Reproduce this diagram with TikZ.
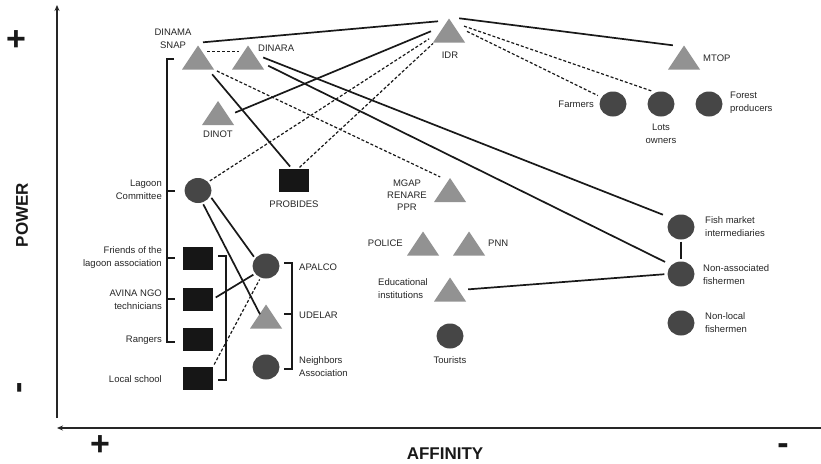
\documentclass[tikz,border=0pt]{standalone}
\usepackage{fontspec}
\setmainfont{Liberation Sans}
\usetikzlibrary{arrows.meta,shapes.geometric}
\definecolor{trigray}{HTML}{929292}
\definecolor{circgray}{HTML}{464646}
\definecolor{sqblack}{HTML}{161616}
\begin{document}
\begin{tikzpicture}[x=1pt,y=-1pt,
  tri/.style={rectangle,minimum width=32pt,minimum height=24pt,inner sep=0pt,
    path picture={\fill[trigray] (path picture bounding box.south west) -- (path picture bounding box.south east) -- (path picture bounding box.north) -- cycle;}},
  circ/.style={ellipse,fill=circgray,minimum width=27pt,minimum height=25pt,inner sep=0pt},
  sq/.style={rectangle,fill=sqblack,minimum width=30pt,minimum height=23pt,inner sep=0pt},
  lbl/.style={font=\fontsize{9.5}{13}\selectfont,inner sep=0pt,text=black!85},
  axlbl/.style={font=\fontsize{17}{17}\selectfont\bfseries,inner sep=0pt,text=black!90},
  sign/.style={font=\fontsize{34}{34}\selectfont\bfseries,inner sep=0pt,text=black!90},
  conn/.style={line width=1.7pt,black!90},
  dsh/.style={line width=1.2pt,black!90,dash pattern=on 3pt off 2pt},
  brk/.style={line width=1.8pt,black!90,line cap=butt,line join=miter},
  axis/.style={line width=1.1pt,black!85,-{Stealth[length=6pt,width=5pt]}}]
\useasboundingbox[fill=white] (0,0) rectangle (821,463);

% axes
\coordinate (ybot) at (57,418);
\coordinate (ytop) at (57,5);
\coordinate (xright) at (821,428);
\coordinate (xleft) at (57,428);
\draw[axis] (ybot) -- (ytop);
\draw[axis] (xright) -- (xleft);
\node[sign] (plustop) at (16,41) {+};
\node[sign,rotate=90,text height=17pt,text depth=0pt] (minusleft) at (20,388) {-};
\node[sign] (plusbot) at (100,446) {+};
\node[sign] (minusbot) at (783,449) {-};
\node[axlbl,rotate=90] (power) at (22,215) {POWER};
\node[axlbl] (affinity) at (445,454) {AFFINITY};

% triangles
\node[tri] (dinama) at (198,57.5) {};
\node[tri] (dinara) at (248,57.5) {};
\node[tri] (dinot) at (218,113) {};
\node[tri] (idr) at (449,30.5) {};
\node[tri] (mtop) at (684,57.5) {};
\node[tri] (mgap) at (450,190) {};
\node[tri] (police) at (423,243.5) {};
\node[tri] (pnn) at (469,243.5) {};
\node[tri] (edu) at (450,289.5) {};
\node[tri] (udelar) at (266,316.5) {};

% circles
\node[circ] (lagoon) at (198,190.5) {};
\node[circ] (farmers) at (613,104) {};
\node[circ] (lots) at (661,104) {};
\node[circ] (forest) at (709,104) {};
\node[circ] (apalco) at (266,266) {};
\node[circ] (neighbors) at (266,367) {};
\node[circ] (tourists) at (450,336) {};
\node[circ] (fish) at (681,227) {};
\node[circ] (nonassoc) at (681,274) {};
\node[circ] (nonlocal) at (681,323) {};

% squares
\node[sq] (probides) at (294,180.5) {};
\node[sq] (friends) at (198,258) {};
\node[sq] (avina) at (198,299) {};
\node[sq] (rangers) at (198,339.5) {};
\node[sq] (school) at (198,378) {};

% labels
\node[lbl,align=center] (tdinama) at (173,39) {DINAMA\\SNAP};
\node[lbl,anchor=west] (tdinara) at (258,48) {DINARA};
\node[lbl] (tdinot) at (218,134) {DINOT};
\node[lbl] (tidr) at (450,55) {IDR};
\node[lbl,anchor=west] (tmtop) at (703,58) {MTOP};
\node[lbl,anchor=east] (tfarmers) at (594,104) {Farmers};
\node[lbl,align=center] (tlots) at (661,133.5) {Lots\\owners};
\node[lbl,anchor=west,align=left] (tforest) at (730,102.5) {Forest\\producers};
\node[lbl,anchor=east,align=right] (tlagoon) at (162,189.5) {Lagoon\\Committee};
\node[lbl] (tprobides) at (294,204) {PROBIDES};
\node[lbl,align=center,font=\fontsize{9.5}{12}\selectfont] (tmgap) at (407,195) {MGAP\\RENARE\\PPR};
\node[lbl,anchor=east] (tpolice) at (403,243) {POLICE};
\node[lbl,anchor=west] (tpnn) at (488,243) {PNN};
\node[lbl,anchor=west,align=left] (tedu) at (378,289) {Educational\\institutions};
\node[lbl] (ttourists) at (450,360) {Tourists};
\node[lbl,anchor=west,align=left] (tfish) at (705,227) {Fish market\\intermediaries};
\node[lbl,anchor=west,align=left] (tnonassoc) at (703,274.5) {Non-associated\\fishermen};
\node[lbl,anchor=west,align=left] (tnonlocal) at (705,323) {Non-local\\fishermen};
\node[lbl,anchor=east,align=right] (tfriends) at (162,257.5) {Friends of the\\lagoon association};
\node[lbl,anchor=east,align=right] (tavina) at (162,299.5) {AVINA NGO\\technicians};
\node[lbl,anchor=east] (trangers) at (162,340) {Rangers};
\node[lbl,anchor=east] (tschool) at (162,379) {Local school};
\node[lbl,anchor=west] (tapalco) at (299,267) {APALCO};
\node[lbl,anchor=west] (tudelar) at (299,315) {UDELAR};
\node[lbl,anchor=west,align=left] (tneighbors) at (299,367) {Neighbors\\Association};

% brackets
\draw[brk] (174,59) -- (167,59) -- (167,342) -- (175,342);
\draw[brk] (167,191) -- (175,191);
\draw[brk] (167,258) -- (175,258);
\draw[brk] (167,299) -- (175,299);
\draw[brk] (218,256) -- (226,256) -- (226,380) -- (218,380);
\draw[brk] (284,263) -- (292,263) -- (292,369) -- (284,369);
\draw[brk] (284,314) -- (292,314);

% solid connectors
\draw[conn] ([shift={(5,-3)}]dinama.north) -- ([shift={(-11,3)}]idr.north);
\draw[conn,shorten <=6pt,shorten >=3pt] (dinama) -- ([xshift=-2]probides.north);
\draw[conn,shorten <=1pt,shorten >=2pt] (dinot.east) -- (idr.west);
\draw[conn,shorten >=9pt] ([xshift=-1]dinara.east) -- (fish.north west);
\draw[conn,shorten >=7pt] ([shift={(4,-4)}]dinara.south east) -- (nonassoc.north west);
\draw[conn,shorten <=2pt,shorten >=3pt] (edu.east) -- (nonassoc.west);
\draw[conn] ([xshift=-6]idr.north east) -- ([xshift=5]mtop.north west);
\draw[conn,shorten <=2pt,shorten >=2pt] (fish) -- (nonassoc);
\draw[conn,shorten <=2pt,shorten >=2pt] (lagoon.-25) -- (apalco.145);
\draw[conn,shorten <=2pt] (lagoon.-70) -- ([shift={(-6,10)}]udelar.north);
\draw[conn,shorten <=3pt,shorten >=2pt] (avina.east) -- (apalco.215);

% dashed connectors
\draw[dsh] ([shift={(-7,-6)}]dinama.east) -- ([shift={(7,-6)}]dinara.west);
\draw[dsh,shorten <=3pt,shorten >=2pt] (dinama.south east) -- ([xshift=-8]mgap.north);
\draw[dsh,shorten <=2pt,shorten >=2pt] (lagoon.40) -- ([shift={(-2,-5)}]idr.south west);
\draw[dsh,shorten <=2pt,shorten >=1pt] ([xshift=4]probides.north) -- ([xshift=1]idr.south west);
\draw[dsh,shorten <=2pt,shorten >=4pt] (idr.east) -- (farmers.150);
\draw[dsh,shorten <=2pt,shorten >=3pt] ([shift={(-3,-5)}]idr.east) -- (lots.115);
\draw[dsh,shorten <=2pt,shorten >=2pt] (school.north east) -- (apalco.-115);
\end{tikzpicture}
\end{document}
